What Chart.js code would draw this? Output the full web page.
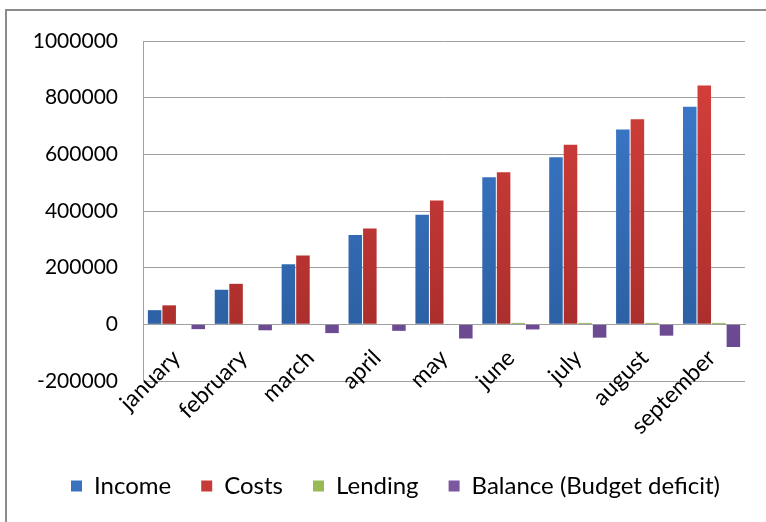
<!DOCTYPE html>
<html>
<head>
<meta charset="utf-8">
<script src="https://cdn.jsdelivr.net/npm/chart.js@4.4.1/dist/chart.umd.min.js"></script>
<style>
  html, body { margin: 0; padding: 0; background: #fff; }
  #wrap { position: relative; width: 766px; height: 522px; overflow: hidden; }
  #frame { position: absolute; left: 5px; top: 9px; width: 800px; height: 560px; border: 2px solid #8c8c8c; box-sizing: border-box; }
  canvas { position: absolute; left: 0; top: 0; }
</style>
</head>
<body>
<div id="wrap">
  <div id="frame"></div>
  <canvas id="myChart" width="766" height="522"></canvas>
</div>
<script>
// Meses (categorias)
const months = ['january', 'february', 'march', 'april', 'may', 'june', 'july', 'august', 'september'];

// Valores
const income  = [50000, 122000, 212000, 315000, 387000, 519000, 590000, 688000, 768000];
const costs   = [67000, 143000, 243000, 338000, 437000, 537000, 634000, 724000, 843000];
const lending = [0, 0, 0, 0, 0, 5000, 5000, 5000, 5000];
const balance = [-17000, -21000, -31000, -23000, -50000, -18000, -47000, -40000, -80000];

// Eixo Y
const yMin = -200000;
const yMax = 1000000;
const yStep = 200000;

// Cores (topo, base) de cada série
const seriesColors = {
    income:  ['#3d7dd0', '#2a5b9c'],
    costs:   ['#d9413d', '#a32b29'],
    lending: ['#a6c863', '#8aab4c'],
    balance: ['#8466aa', '#68468e']
};

function gradient(pair) {
    return function(context) {
        const chart = context.chart;
        const area = chart.chartArea;
        if (!area) return pair[0];
        const g = chart.ctx.createLinearGradient(0, area.top, 0, area.bottom);
        g.addColorStop(0, pair[0]);
        g.addColorStop(1, pair[1]);
        return g;
    };
}

// empurra a legenda um pouco para a direita, como no original
const shiftLegend = {
    id: 'shiftLegend',
    afterLayout(chart) {
        chart.legend.left += 23;
        chart.legend.right += 23;
    }
};

const ctx = document.getElementById('myChart').getContext('2d');
const myChart = new Chart(ctx, {
    type: 'bar',
    data: {
        labels: months,
        datasets: [
            { label: 'Income', data: income, backgroundColor: gradient(seriesColors.income), legendColor: '#3a72bf' },
            { label: 'Costs', data: costs, backgroundColor: gradient(seriesColors.costs), legendColor: '#c63a37' },
            { label: 'Lending', data: lending, backgroundColor: gradient(seriesColors.lending), legendColor: '#98b954' },
            { label: 'Balance (Budget deficit)', data: balance, backgroundColor: gradient(seriesColors.balance), legendColor: '#7a579f' }
        ]
    },
    options: {
        responsive: false,
        animation: false,
        datasets: {
            bar: {
                categoryPercentage: 0.87,
                barPercentage: 0.93
            }
        },
        layout: {
            padding: { top: 41, right: 21, bottom: 14, left: 0 }
        },
        plugins: {
            tooltip: { enabled: false },
            legend: {
                position: 'bottom',
                // título vazio só para reservar espaço acima da legenda
                title: {
                    display: true,
                    text: ' ',
                    font: { size: 10, lineHeight: 1 },
                    padding: { top: 0, bottom: 53 }
                },
                labels: {
                    boxWidth: 11,
                    boxHeight: 11,
                    padding: 30,
                    color: '#000',
                    font: { family: 'Lato', size: 24 },
                    generateLabels: function(chart) {
                        return chart.data.datasets.map((ds, i) => ({
                            text: ds.label,
                            fillStyle: ds.legendColor,
                            strokeStyle: ds.legendColor,
                            lineWidth: 0,
                            hidden: false,
                            datasetIndex: i,
                            fontColor: '#000'
                        }));
                    }
                }
            }
        },
        scales: {
            x: {
                position: { y: 0 }, // eixo das categorias cruza no zero
                grid: { display: false },
                border: { display: true, color: '#a0a0a0', width: 1 },
                ticks: {
                    color: '#000',
                    font: { family: 'Lato', size: 23 },
                    minRotation: 45,
                    maxRotation: 45,
                    autoSkip: false,
                    padding: 12
                }
            },
            y: {
                min: yMin,
                max: yMax,
                grid: { color: '#a0a0a0', drawTicks: false },
                border: { display: true, color: '#a0a0a0', width: 1 },
                afterFit: function(scale) {
                    scale.width = 143; // largura fixa do eixo
                },
                ticks: {
                    stepSize: yStep,
                    color: '#000',
                    padding: 25,
                    font: { family: 'Lato', size: 21 },
                    callback: function(value) {
                        return String(value);
                    }
                }
            }
        }
    },
    plugins: [shiftLegend]
});
</script>
</body>
</html>
